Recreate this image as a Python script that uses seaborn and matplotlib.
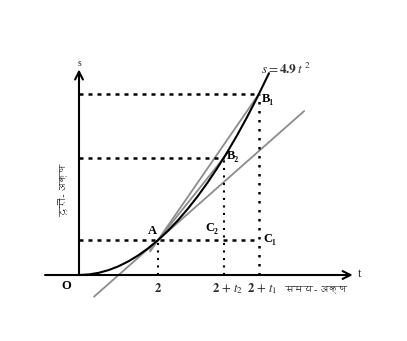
import numpy as np
import matplotlib
matplotlib.use("Agg")
import matplotlib.pyplot as plt
from matplotlib import font_manager
from matplotlib.ft2font import FT2Font
import seaborn as sns

# ---------------- data ----------------
# curve s = 4.9 t^2 (values of the plotted curve)
curve_t = [0.0, 0.25, 0.5, 0.75, 1.0, 1.25, 1.5, 1.75, 2.0, 2.25, 2.5, 2.75,
           3.0, 3.25, 3.5, 3.75, 4.0, 4.25, 4.5, 4.81]
curve_s = [0.0, 0.31, 1.23, 2.76, 4.9, 7.66, 11.03, 15.01, 19.6, 24.81, 30.63,
           37.06, 44.1, 51.76, 60.03, 68.91, 78.4, 88.51, 99.23, 113.36]

# key points
point_names = ["A", "B₂", "B₁"]
point_t = [2.0, 3.67, 4.56]
point_s = [19.6, 66.0, 101.9]

# secants and tangent (gray lines)
secant1_t = [1.80, 4.56]
secant1_s = [13.2, 101.9]
secant2_t = [1.80, 3.80]
secant2_s = [14.0, 69.6]
tangent_t = [0.38, 5.70]
tangent_s = [-12.2, 92.1]

tick_labels = [r"$\mathbf{2}$", r"$\mathbf{2}\,+\,t_{2}$", r"$\mathbf{2}\,+\,t_{1}$"]
x_axis_label = "समय-अक्ष"
y_axis_label = "दूरी-अक्ष"
curve_label = r"$s = \mathbf{4.9}\,t\ ^{2}$"

# ---------------- fonts ----------------
sns.set_style("white")
deva = None
for f in font_manager.fontManager.ttflist:
    try:
        if FT2Font(f.fname).get_char_index(0x0905) != 0:
            deva = f.name
            break
    except Exception:
        pass
serif = ["Liberation Serif", "DejaVu Serif"]
plt.rcParams["font.family"] = serif
plt.rcParams["mathtext.fontset"] = "stix"
deva_family = ([deva] if deva else []) + ["DejaVu Sans"]

# ---------------- figure ----------------
fig = plt.figure(figsize=(4.07, 3.41), dpi=100)
ax = fig.add_axes([0, 0, 1, 1])
PX_T, PX_S, X0, Y0 = 39.5, 1.78, 79, 275
ax.set_xlim(-X0 / PX_T, (407 - X0) / PX_T)
ax.set_ylim((Y0 - 341) / PX_S, Y0 / PX_S)
ax.set_axis_off()

gray = "#8c8c8c"
sns.lineplot(x=tangent_t, y=tangent_s, ax=ax, color=gray, lw=1.3,
             estimator=None, sort=False)
sns.lineplot(x=secant1_t, y=secant1_s, ax=ax, color=gray, lw=1.3,
             estimator=None, sort=False)
sns.lineplot(x=secant2_t, y=secant2_s, ax=ax, color=gray, lw=1.3,
             estimator=None, sort=False)
sns.lineplot(x=curve_t, y=curve_s, ax=ax, color="black", lw=1.5,
             estimator=None, sort=False)

# axes with arrows
xl, xr = -0.86, 6.93
ax.annotate("", xy=(xr, 0), xytext=(xl, 0),
            arrowprops=dict(arrowstyle="->", lw=1.5, color="black",
                            mutation_scale=14, shrinkA=0, shrinkB=0))
ax.annotate("", xy=(0, 115.5), xytext=(0, 0),
            arrowprops=dict(arrowstyle="->", lw=1.5, color="black",
                            mutation_scale=14, shrinkA=0, shrinkB=0))

# dashed horizontal guides and dotted vertical guides
hdash = (0, (1.6, 2.0))
vdot = (0, (1.0, 2.6))
A_t, B2_t, B1_t = point_t
A_s, B2_s, B1_s = point_s
ax.plot([0, B1_t], [B1_s, B1_s], color="black", lw=1.8, ls=hdash)
ax.plot([0, B2_t], [B2_s, B2_s], color="black", lw=1.8, ls=hdash)
ax.plot([0, B1_t], [A_s, A_s], color="black", lw=1.8, ls=hdash)
ax.plot([A_t, A_t], [0, A_s], color="black", lw=1.5, ls=vdot)
ax.plot([B2_t, B2_t], [0, B2_s], color="black", lw=1.5, ls=vdot)
ax.plot([B1_t, B1_t], [0, B1_s], color="black", lw=1.8, ls=vdot)

# point labels
tk = dict(color="black", fontsize=9, fontweight="bold",
          textcoords="offset pixels", ha="center", va="center")
ax.annotate("A", xy=(A_t, A_s), xytext=(-6, 9), **tk)
ax.annotate(point_names[1], xy=(B2_t, B2_s), xytext=(9, 2), **tk)
ax.annotate(point_names[2], xy=(B1_t, B1_s), xytext=(9, -5), **tk)
ax.annotate("C₂", xy=(B2_t, A_s), xytext=(-12, 12), **tk)
ax.annotate("C₁", xy=(B1_t, A_s), xytext=(11, 1), **tk)
ax.annotate("O", xy=(0, 0), xytext=(-13, -11), **tk)
ax.annotate(curve_label, xy=(curve_t[-1], curve_s[-1]), xytext=(17, 5),
            textcoords="offset pixels", ha="center", va="center",
            fontsize=9.5, color="#333333")

# tick labels on time axis
offs = [0, 4, 3]
for t, lab, o in zip(point_t, tick_labels, offs):
    ax.annotate(lab, xy=(t, 0), xytext=(o, -14), textcoords="offset pixels",
                ha="center", va="center", fontsize=9)

# axis letters
ax.annotate("t", xy=(xr, 0), xytext=(7, 1), textcoords="offset pixels",
            ha="center", va="center", fontsize=9)
ax.annotate("s", xy=(0, 115.5), xytext=(0, 6), textcoords="offset pixels",
            ha="center", va="center", fontsize=7)

# Hindi axis labels
ax.annotate(x_axis_label, xy=(B1_t, 0), xytext=(57, -14),
            textcoords="offset pixels", ha="center", va="center",
            fontsize=7, family=deva_family, color="#222222")
ax.annotate(y_axis_label, xy=(0, B2_s), xytext=(-17, -33),
            textcoords="offset pixels", ha="center", va="center",
            rotation=90, fontsize=7, family=deva_family, color="#222222")

fig.savefig("out.png", dpi=100)
